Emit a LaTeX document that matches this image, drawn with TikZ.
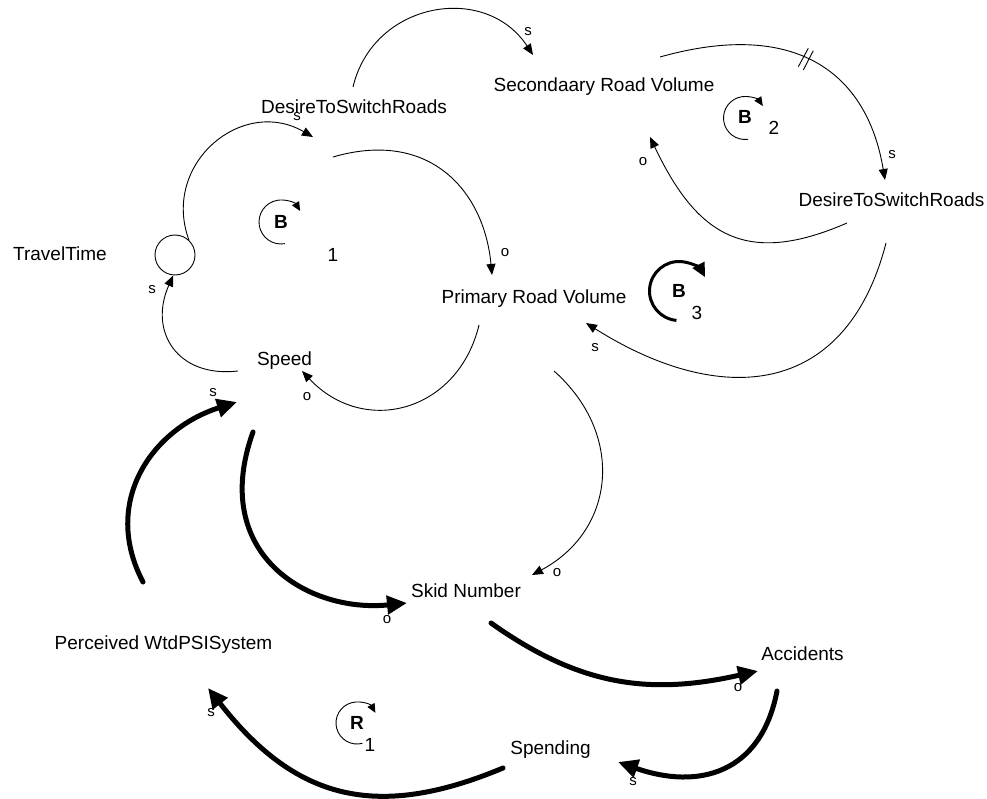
\documentclass[tikz,border=0pt]{standalone}
\usepackage{fontspec}
\setmainfont{Liberation Sans}
\usetikzlibrary{arrows.meta}
\begin{document}
\begin{tikzpicture}[x=1pt,y=1pt,
  lbl/.style={inner sep=0pt, font=\fontsize{19}{22}\selectfont, text height=13.6pt, text depth=0pt},
  pol/.style={inner sep=0pt, font=\fontsize{15}{18}\selectfont, text height=7.8pt, text depth=0pt},
  loopl/.style={inner sep=0pt, font=\fontsize{19}{22}\selectfont\bfseries, text height=13.6pt, text depth=0pt},
  thinlink/.style={line width=0.9pt, -{Triangle[length=11pt,width=9pt]}},
  thicklink/.style={line width=5pt, line cap=round, -{Triangle[length=20pt,width=18pt]}},
  loopar/.style={line width=0.9pt, -{Triangle[length=9pt,width=8pt]}},
  thickloop/.style={line width=3pt, -{Triangle[length=14pt,width=13pt]}},
  hashmark/.style={line width=0.9pt}
]
\fill[white] (0,0) rectangle (987,-799);
\useasboundingbox (0,0) rectangle (987,-799);

% variables
\node[lbl] (tt) at (60,-254) {TravelTime};
\node[draw, circle, line width=0.9pt, minimum size=40pt, inner sep=0pt] (ttc) at (175,-255) {};
\node[lbl] (dts1) at (354,-107) {DesireToSwitchRoads};
\node[lbl] (srv) at (604,-85) {Secondaary Road Volume};
\node[lbl] (dts2) at (891.5,-200) {DesireToSwitchRoads};
\node[lbl] (prv) at (534,-297) {Primary Road Volume};
\node[lbl] (spd) at (284.5,-359) {Speed};
\node[lbl] (skid) at (466,-591) {Skid Number};
\node[lbl] (pws) at (163.5,-643) {Perceived WtdPSISystem};
\node[lbl] (acc) at (802.5,-654) {Accidents};
\node[lbl] (spen) at (550.5,-748) {Spending};

% connector end points
\coordinate (dts1in) at (313,-137);
\coordinate (dts1out) at (353,-87);
\coordinate (dts1outb) at (333,-157);
\coordinate (srvin) at (533,-55);
\coordinate (srvout) at (660,-57);
\coordinate (srvinb) at (650,-137);
\coordinate (dts2in) at (885,-180);
\coordinate (dts2out) at (847,-223);
\coordinate (dts2outb) at (886,-243);
\coordinate (prvin) at (492,-275);
\coordinate (prvinb) at (586,-323);
\coordinate (prvout) at (479,-325);
\coordinate (prvoutb) at (554,-371);
\coordinate (spdout) at (238,-371);
\coordinate (spdin) at (302,-371);
\coordinate (spdinb) at (237,-402);
\coordinate (spdoutb) at (253,-432);
\coordinate (skidin) at (532,-575);
\coordinate (skidinb) at (407,-603);
\coordinate (skidout) at (491,-623);
\coordinate (pwsout) at (143,-582);
\coordinate (pwsin) at (208,-688);
\coordinate (accin) at (758,-671);
\coordinate (accout) at (777,-691);
\coordinate (spenin) at (618,-762);
\coordinate (spenout) at (503,-768);

% thin links
\draw[thinlink] (ttc.47) .. controls (161,-164) and (242,-96) .. (dts1in);
\draw[thinlink] (dts1out) .. controls (373,-2) and (485,18) .. (srvin);
\draw[thinlink] (dts1outb) .. controls (429,-129) and (484,-190) .. (prvin);
\draw[thinlink] (srvout) .. controls (795,-19) and (867,-72) .. (dts2in);
\draw[thinlink] (dts2out) .. controls (746,-267) and (697,-236) .. (srvinb);
\draw[thinlink] (dts2outb) .. controls (846,-398) and (721,-408) .. (prvinb);
\draw[thinlink] (spdout) .. controls (178,-378) and (148,-332) .. (ttc.265);
\draw[thinlink] (prvout) .. controls (458,-412) and (364,-437) .. (spdin);
\draw[thinlink] (prvoutb) .. controls (625,-434) and (616,-530) .. (skidin);

% delay mark
\draw[hashmark] (798.3,-66.7) -- (808.3,-48.3);
\draw[hashmark] (803.3,-70) -- (813.3,-50.7);

% thick links
\draw[thicklink] (pwsout) .. controls (101,-502) and (152,-429) .. (spdinb);
\draw[thicklink] (spdoutb) .. controls (209,-554) and (308,-613) .. (skidinb);
\draw[thicklink] (skidout) .. controls (581,-687) and (651,-695) .. (accin);
\draw[thicklink] (accout) .. controls (761,-774) and (698,-790) .. (spenin);
\draw[thicklink] (spenout) .. controls (374,-822) and (294,-798) .. (pwsin);

% loops
\draw[loopar] (281,-222) ++(280:22) arc[start angle=280, end angle=30, radius=22];
\node[loopl] (b1) at (281,-222) {B};
\node[lbl] (b1n) at (333,-255) {1};
\draw[loopar] (745,-118) ++(278:21.5) arc[start angle=278, end angle=34, radius=21.5];
\node[loopl] (b2) at (745,-117) {B};
\node[lbl] (b2n) at (774,-128) {2};
\draw[thickloop] (679,-291) ++(265:29.5) arc[start angle=265, end angle=28, radius=29.5];
\node[loopl] (b3) at (679,-291) {B};
\node[lbl] (b3n) at (697,-313) {3};
\draw[loopar] (357,-723) ++(285:21) arc[start angle=285, end angle=29, radius=21];
\node[loopl] (r1) at (357,-723) {R};
\node[lbl] (r1n) at (370,-745) {1};

% polarities
\node[pol] (p1) at (297,-117) {s};
\node[pol] (p2) at (528,-32) {s};
\node[pol] (p3) at (505,-253) {o};
\node[pol] (p4) at (892,-155) {s};
\node[pol] (p5) at (643,-162) {o};
\node[pol] (p6) at (595,-348) {s};
\node[pol] (p7) at (152,-290) {s};
\node[pol] (p8) at (307,-397) {o};
\node[pol] (p9) at (213,-393) {s};
\node[pol] (p10) at (387,-620) {o};
\node[pol] (p11) at (557,-573) {o};
\node[pol] (p12) at (738,-688) {o};
\node[pol] (p13) at (633,-782) {s};
\node[pol] (p14) at (211,-713) {s};
\end{tikzpicture}
\end{document}
